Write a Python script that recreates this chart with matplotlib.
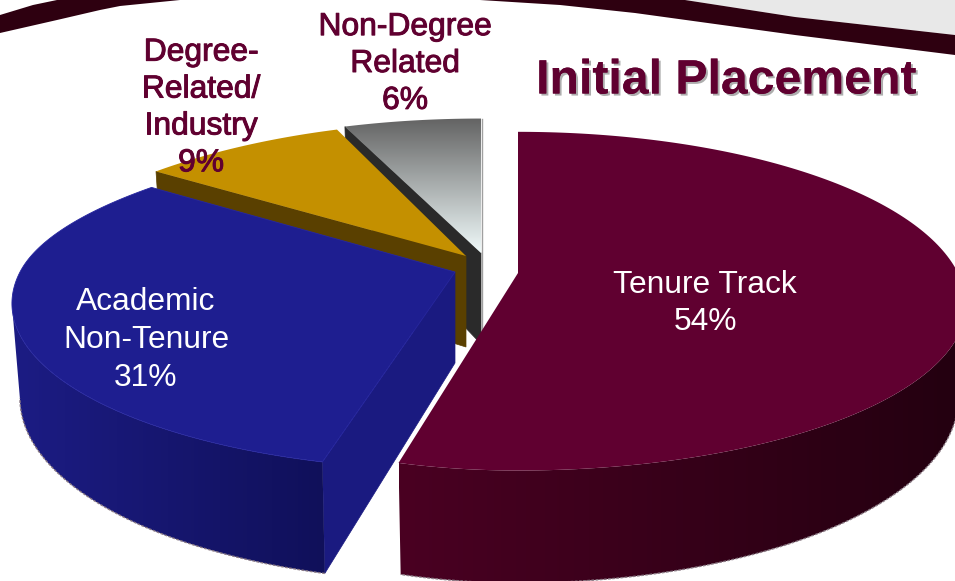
import numpy as np
import matplotlib
matplotlib.use("Agg")
import matplotlib.pyplot as plt
import matplotlib.patheffects as pe
from matplotlib.patches import Polygon
from matplotlib.colors import LinearSegmentedColormap

# chart values
categories = ["Tenure Track", "Academic\nNon-Tenure", "Degree-\nRelated/\nIndustry", "Non-Degree\nRelated"]
shares = [54, 31, 9, 6]
title = "Initial Placement"

# slice styling, same order as shares
apex = [(518, 273), (455, 272), (466, 256), (481, 253)]
radius_left = [392, 435, 435, 435]
radius_right = [440, 435, 435, 435]
flat_back = [168, 160, 160, 160]
back_taper = [0, 0.12, 0.06, 0]
top_colors = ["#600030", "#1e1e90", "#c49000", "#808080"]
wall_left = ["#4a0022", "#1c1c84", "#5a4000", "#2a2a2a"]
wall_right = ["#230010", "#10105a", "#5a4000", "#2a2a2a"]
cut_colors = ["#3a0018", "#1a1a80", "#5a4000", "#2a2a2a"]

FLAT = 160   # vertical radius
PERSP = 0.19
DEPTH = 91

plt.rcParams["font.family"] = ["Liberation Sans", "DejaVu Sans"]

fig = plt.figure(figsize=(9.55, 5.81), dpi=100)
ax = fig.add_axes([0, 0, 1, 1])
ax.set_xlim(0, 955)
ax.set_ylim(581, 0)
ax.axis("off")


def project(t, i, z=0.0, r=1.0):
    # t is clockwise from the back of the pie, z goes down the side wall
    x, y = np.sin(t) * r, np.cos(t) * r
    w = 1 + PERSP * y
    a = np.where(x < 0, radius_left[i], radius_right[i]) * (1 - 0.018 * z)
    a = a * (1 - back_taper[i] * np.maximum(y, 0) ** 2)
    b = np.where(y > 0, flat_back[i], FLAT)
    return apex[i][0] + a * x / w, apex[i][1] - b * y / w + DEPTH * z / w


def gradient_fill(poly, c0, c1, zorder, horizontal=False):
    # linear gradient clipped to a polygon
    cmap = LinearSegmentedColormap.from_list("g", [c0, c1])
    xs, ys = poly[:, 0], poly[:, 1]
    ramp = np.linspace(0, 1, 256).reshape(1, -1) if horizontal else np.linspace(0, 1, 256).reshape(-1, 1)
    im = ax.imshow(ramp, cmap=cmap, aspect="auto", zorder=zorder,
                   extent=[xs.min(), xs.max(), ys.max(), ys.min()])
    patch = Polygon(poly, closed=True, fc="none", ec="none", zorder=zorder)
    ax.add_patch(patch)
    im.set_clip_path(patch)


# background swoosh along the top
ax.fill([685, 795, 955, 955], [0, 17, 35, 0], color="#e8e8e8", lw=0, zorder=0)
ax.fill([0, 33, 57, 180, 120, 100, 57, 0], [15, 5, 0, 0, 6, 10, 20, 33], color="#2e0010", lw=0, zorder=1)
ax.fill([480, 560, 635, 795, 955, 955, 795, 685], [0, 5, 13, 35, 55, 35, 17, 0], color="#2e0010", lw=0, zorder=1)

# slices as fractions of the full turn, starting at the back going clockwise
edges = np.cumsum([0] + shares) / sum(shares) * 2 * np.pi
draw_order = [3, 2, 0, 1]
for zbase, i in enumerate(draw_order):
    t = np.linspace(edges[i], edges[i + 1], 200)
    z0 = 10 + zbase * 5
    rx, ry = project(t, i)
    bx, by = project(t, i, 1.0)
    ax_, ay_ = apex[i]
    abx, aby = project(0.0, i, 1.0, 0.0)
    tr = project(edges[i], i)
    br = project(edges[i], i, 1.0)

    # cut face on the side turned towards the viewer
    if i != 0:
        ax.add_patch(Polygon([(ax_, ay_), tr, br, (abx, aby)], fc=cut_colors[i], ec=cut_colors[i], lw=0.5, zorder=z0))

    # outer wall, only the part in front of the widest point
    front = np.cos(t) < -PERSP
    if front.sum() > 1:
        wall = np.column_stack([np.r_[rx[front], bx[front][::-1]], np.r_[ry[front], by[front][::-1]]])
        gradient_fill(wall, wall_left[i], wall_right[i], z0 + 1, horizontal=True)
        ax.plot(bx[front], by[front], color="#8a7a84", lw=1, ls=(0, (2, 1)), zorder=z0 + 1)

    # top face
    poly = np.column_stack([np.r_[ax_, rx], np.r_[ay_, ry]])
    if i == 3:
        gradient_fill(poly, "#636363", "#f0fafa", z0 + 2)
        ax.plot([ax_ + 1, ax_ + 1], [ry[-1], aby], color="#a0a0a0", lw=1, zorder=z0 + 2)
    elif i == 1:
        ax.add_patch(Polygon(poly, fc=top_colors[i], ec="#2626a0", lw=0.6, zorder=z0 + 2))
    else:
        ax.add_patch(Polygon(poly, fc=top_colors[i], ec="none", zorder=z0 + 2))

# labels
white = dict(color="white", ha="center", va="center", fontsize=22.9, linespacing=1.34, zorder=50)
maroon = dict(color="#600030", ha="center", va="center", fontsize=22.9, linespacing=1.3, zorder=50,
              path_effects=[pe.withStroke(linewidth=0.7, foreground="#600030")])
ax.text(705, 303.5, f"{categories[0]}\n{shares[0]}%", **white)
ax.text(146, 340, f"{categories[1]}\n{shares[1]}%", **white)
ax.text(201, 108, f"{categories[2]}\n{shares[2]}%", **maroon)
ax.text(405, 64, f"{categories[3]}\n{shares[3]}%", **maroon)
ax.text(726, 81, title, color="#600030", ha="center", va="center", fontsize=34.7, fontweight="bold", zorder=50,
        path_effects=[pe.withSimplePatchShadow(offset=(1.5, -1.5), shadow_rgbFace="#999999", alpha=0.8), pe.Normal()])

fig.savefig("out.png", dpi=100)
